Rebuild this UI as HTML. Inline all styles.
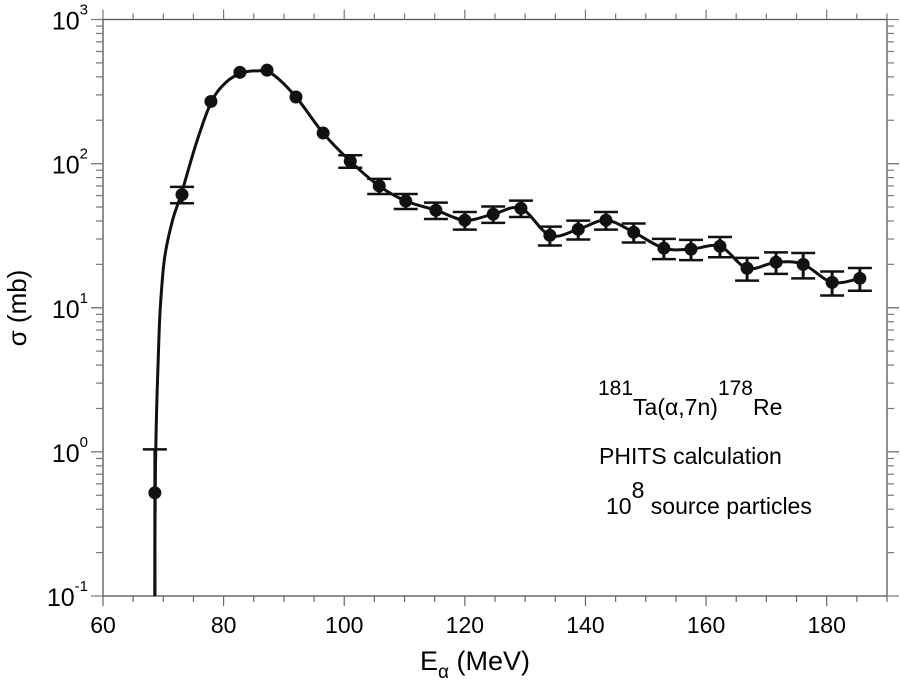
<!DOCTYPE html>
<html><head><meta charset="utf-8"><style>
html,body{margin:0;padding:0;background:#fff;}
svg{display:block;font-family:"Liberation Sans",sans-serif;}
</style></head><body>
<svg id="chart" width="900" height="686" viewBox="0 0 900 686">
<g id="axes"></g>
<g id="marks"></g>
<text x="26" y="308" font-size="26" text-anchor="middle" transform="rotate(-90 26 308)">σ (mb)</text>
<text x="420" y="670" font-size="27">E<tspan font-size="19" dy="8">α</tspan><tspan dy="-8"> (MeV)</tspan></text>
<g font-size="23">
<text x="598" y="415"><tspan font-size="21" dy="-20">181</tspan><tspan dy="20">Ta(α,7n)</tspan><tspan font-size="21" dy="-20">178</tspan><tspan dy="20">Re</tspan></text>
<text x="599" y="464">PHITS calculation</text>
<text x="606" y="514">10<tspan font-size="23" dy="-16">8</tspan><tspan dy="16"> source particles</tspan></text>
</g>
</svg>
<script>
const energies=[68.6,73.1,77.9,82.7,87.2,92,96.5,101,105.8,110.2,115.2,120,124.7,129.3,134.1,138.8,143.4,148,153,157.5,162.3,166.8,171.6,176.1,180.9,185.5];
const sigma=[0.52,61,270,430,445,290,163,104,70,55,47.5,40.5,44.6,49,31.8,35,40.5,33.4,25.9,25.5,26.7,18.8,20.7,20,15,16];
const relErr=[1,0.13,0,0,0,0,0,0.1,0.12,0.12,0.13,0.14,0.13,0.13,0.15,0.15,0.14,0.15,0.16,0.16,0.16,0.18,0.17,0.2,0.19,0.18];
const curveE=[68.6,68.62,68.7,68.9,69.2,69.5,70.2,71.5,73,75.5,78,80.5,83,85.5,88,92,96.5,101,105.8,110.2,115.2,120,124.7,129.3,134.1,138.8,143.4,148,153,157.5,162.3,166.8,171.6,176.1,180.9,185.5];
const curveV=[0.1,0.3,0.8,2,5,10,22,40,62,140,270,370,425,440,420,290,163,104,70,55,47.5,40.5,44.6,49,31.8,35,40.5,33.4,25.9,25.5,26.7,18.8,20.7,20,15,16];
const xTicks=[60,80,100,120,140,160,180];
const yTicks=[-1,0,1,2,3];

const X0=103,X1=887,Y0=596,Y1=19.5,xmin=60,xmax=190,lmin=-1,lmax=3;
const xs=v=>X0+(v-xmin)/(xmax-xmin)*(X1-X0);
const ys=v=>Y0-(Math.log10(v)-lmin)/(lmax-lmin)*(Y0-Y1);
const NS="http://www.w3.org/2000/svg";
function mk(t,a,p){const e=document.createElementNS(NS,t);for(const k in a)e.setAttribute(k,a[k]);p.appendChild(e);return e;}
const ax=document.getElementById('axes'),mg=document.getElementById('marks');
const fr=mk('rect',{x:X0,y:Y1,width:X1-X0,height:Y0-Y1,fill:'none',stroke:'#555','stroke-width':1.3},ax);


for(let v=60;v<=190;v+=5){
  const major=v%20===0, len=major?10:6, x=xs(v);
  const t1=mk('line',{x1:x,x2:x,y1:Y0,y2:Y0+len,stroke:'#666','stroke-width':1.2},ax);
  
  
  const t2=mk('line',{x1:x,x2:x,y1:Y1,y2:Y1-len,stroke:'#777','stroke-width':1.2},ax);
  
  
}
xTicks.forEach(v=>{
  const t=mk('text',{x:xs(v),y:Y0+37,'font-size':23,'text-anchor':'middle'},ax);t.textContent=v;
  
  
});
for(let d=-1;d<3;d++)for(let m=1;m<=10;m++){
  const v=m*Math.pow(10,d),y=ys(v),len=(m===1||m===10)?12:7;
  [[X0,X0-len],[X1,X1+len]].forEach(p=>{
    const t=mk('line',{x1:p[0],x2:p[1],y1:y,y2:y,stroke:'#777','stroke-width':1.2},ax);
    
    
  });
}
yTicks.forEach(d=>{
  const t=mk('text',{x:88,y:ys(Math.pow(10,d))+10,'font-size':25,'text-anchor':'end'},ax);
  t.textContent='10';
  
  
  const s=mk('tspan',{'font-size':15,dy:-15},t);s.textContent=d;
});
const P=curveE.map((e,i)=>[xs(e),ys(curveV[i])]);
let dstr='M'+P[0][0]+','+P[0][1];
for(let i=0;i<P.length-1;i++){
  const p0=P[Math.max(0,i-1)],p1=P[i],p2=P[i+1],p3=P[Math.min(P.length-1,i+2)];
  const c1=[p1[0]+(p2[0]-p0[0])/6,p1[1]+(p2[1]-p0[1])/6],c2=[p2[0]-(p3[0]-p1[0])/6,p2[1]-(p3[1]-p1[1])/6];
  dstr+=` C${c1[0]},${c1[1]} ${c2[0]},${c2[1]} ${p2[0]},${p2[1]}`;
}
const cv=mk('path',{d:dstr,fill:'none',stroke:'#111','stroke-width':3},mg);


energies.forEach((e,i)=>{
  const x=xs(e),v=sigma[i],r=relErr[i];
  if(r>0){
    const hi=v*(1+r),lo=v*(1-r);
    const yh=ys(hi),yl=lo>0.1?ys(lo):Y0;
    const b=mk('line',{x1:x,x2:x,y1:yh,y2:yl,stroke:'#111','stroke-width':3},mg);
    
    
    const c=mk('line',{x1:x-12,x2:x+12,y1:yh,y2:yh,stroke:'#111','stroke-width':2.5},mg);
    
    
    if(lo>0.1){const c2=mk('line',{x1:x-12,x2:x+12,y1:yl,y2:yl,stroke:'#111','stroke-width':2.5},mg);
    
    }
  }
  const p=mk('circle',{cx:x,cy:ys(v),r:6.5,fill:'#111'},mg);
  
  
});
</script>
</body></html>
